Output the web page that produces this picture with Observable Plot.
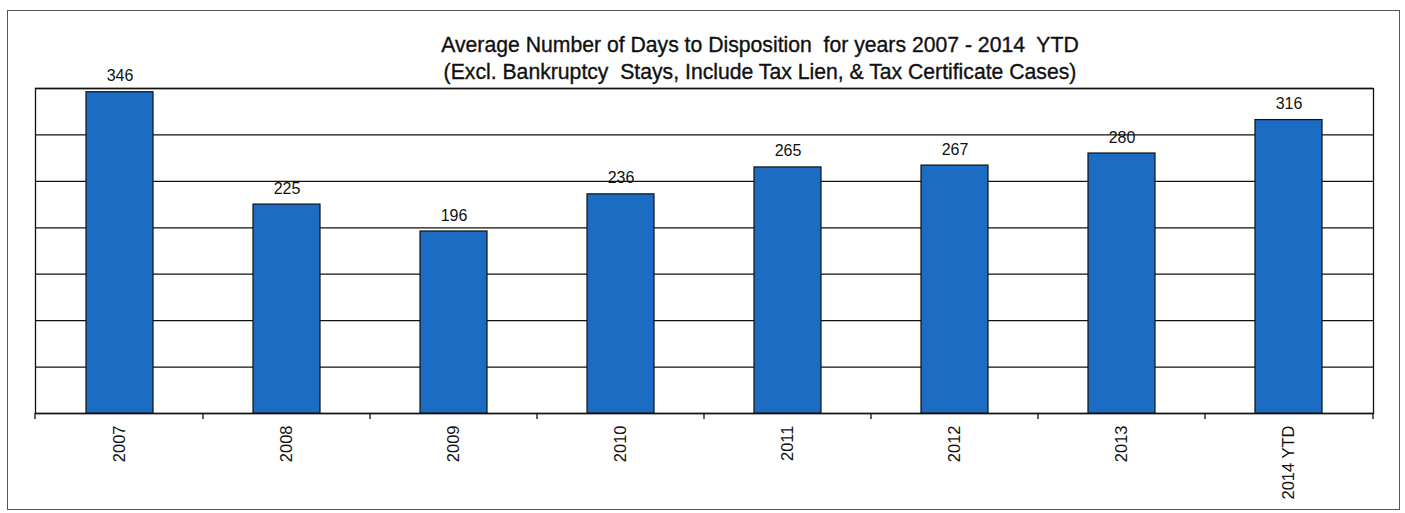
<!DOCTYPE html>
<html>
<head>
<meta charset="utf-8">
<script src="https://cdn.jsdelivr.net/npm/d3@7"></script>
<script src="https://cdn.jsdelivr.net/npm/@observablehq/plot@0.6"></script>
<style>
  html, body { margin: 0; padding: 0; background: #fff; }
  #wrap { position: relative; width: 1405px; height: 513px; overflow: hidden; font-family: "Liberation Sans", Arial, sans-serif; }
  #border { position: absolute; left: 7px; top: 10px; width: 1393px; height: 500px; border: 1px solid #555; box-sizing: border-box; }
  #title { position: absolute; left: 260px; width: 1000px; top: 31px; text-align: center; font-size: 21.2px; line-height: 27px; color: #111; white-space: nowrap; -webkit-text-stroke: 0.35px #111; }
  #chart { position: absolute; left: 0; top: 0; }
</style>
</head>
<body>
<div id="wrap">
  <div id="border"></div>
  <div id="title">Average Number of Days to Disposition&nbsp; for years 2007 - 2014&nbsp; YTD<br>(Excl. Bankruptcy&nbsp; Stays, Include Tax Lien, &amp; Tax Certificate Cases)</div>
  <div id="chart"></div>
</div>
<script>
const categories = ["2007", "2008", "2009", "2010", "2011", "2012", "2013", "2014 YTD"];
const values = [346, 225, 196, 236, 265, 267, 280, 316];
const gridValues = [0, 50, 100, 150, 200, 250, 300, 350];

const data = categories.map((c, i) => ({cat: c, val: values[i]}));

// tick marks at band boundaries, computed from the x scale
function boundaryTicks(index, scales, vals, dims) {
  const ns = "http://www.w3.org/2000/svg";
  const g = document.createElementNS(ns, "g");
  const bw = typeof scales.x.bandwidth === "function" ? scales.x.bandwidth() : 0;
  const centers = categories.map(c => scales.x(c) + bw / 2);
  const xs = [dims.marginLeft];
  for (let i = 0; i < centers.length - 1; i++) xs.push((centers[i] + centers[i + 1]) / 2);
  xs.push(dims.width - dims.marginRight);
  const y0 = dims.height - dims.marginBottom;
  for (const x of xs) {
    const l = document.createElementNS(ns, "line");
    l.setAttribute("x1", x); l.setAttribute("x2", x);
    l.setAttribute("y1", y0); l.setAttribute("y2", y0 + 6);
    l.setAttribute("stroke", "#111"); l.setAttribute("stroke-width", 1.3);
    g.appendChild(l);
  }
  return g;
}

const plot = Plot.plot({
  width: 1405,
  height: 503,
  marginLeft: 35,
  marginRight: 32,
  marginTop: 88,
  marginBottom: 90,
  style: {fontFamily: "'Liberation Sans', Arial, sans-serif", fontSize: "15px", color: "#111", background: "transparent", overflow: "visible"},
  x: {domain: categories, paddingInner: 0.6, paddingOuter: 0.3, label: null},
  y: {domain: [0, 350], label: null, axis: null},
  marks: [
    Plot.ruleY(gridValues, {stroke: "#111", strokeWidth: 1.3}),
    Plot.frame({stroke: "#111", strokeWidth: 1.3}),
    Plot.barY(data, {x: "cat", y: "val", fill: "#1b6cc2", stroke: "#111", strokeWidth: 1.2}),
    Plot.text(data, {x: "cat", y: "val", text: d => String(d.val), lineAnchor: "bottom", dy: -11, fontSize: 16, fill: "#111"}),
    Plot.axisX({tickRotate: -90, tickSize: 0, tickPadding: 12, fontSize: 16.5, label: null}),
    boundaryTicks
  ]
});
document.getElementById("chart").appendChild(plot);
</script>
</body>
</html>
